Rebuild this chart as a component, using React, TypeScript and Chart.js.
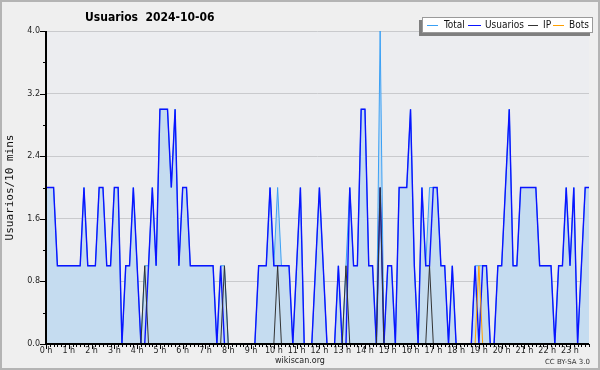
import React, { useEffect, useRef } from "react";
import { Chart, registerables } from "chart.js";

Chart.register(...registerables);

// 10-minute slots over the day
const timeLabels: string[] = [];
for (let h = 0; h < 24; h++) {
  for (let m = 0; m < 60; m += 10) timeLabels.push(`${h}:${String(m).padStart(2, "0")}`);
}

const hourTickLabels = [
  "0 h", "1 h", "2 h", "3 h", "4 h", "5 h", "6 h", "7 h", "8 h", "9 h", "10 h", "11 h",
  "12 h", "13 h", "14 h", "15 h", "16 h", "17 h", "18 h", "19 h", "20 h", "21 h", "22 h", "23 h",
];
const yTickLabels = ["0.0", "0.8", "1.6", "2.4", "3.2", "4.0"];

const usuarios = [
  2, 2, 2, 1, 1, 1, 1, 1, 1, 1, 2, 1,
  1, 1, 2, 2, 1, 1, 2, 2, 0, 1, 1, 2,
  1, 0, 0, 1, 2, 1, 3, 3, 3, 2, 3, 1,
  2, 2, 1, 1, 1, 1, 1, 1, 1, 0, 1, 0,
  0, 0, 0, 0, 0, 0, 0, 0, 1, 1, 1, 2,
  1, 1, 1, 1, 1, 0, 1, 2, 0, 0, 0, 1,
  2, 1, 0, 0, 0, 1, 0, 0, 2, 1, 1, 3,
  3, 1, 1, 0, 2, 0, 1, 1, 0, 2, 2, 2,
  3, 1, 0, 2, 1, 1, 2, 2, 1, 1, 0, 1,
  0, 0, 0, 0, 0, 1, 0, 1, 1, 0, 0, 1,
  1, 2, 3, 1, 1, 2, 2, 2, 2, 2, 1, 1,
  1, 1, 0, 1, 1, 2, 1, 2, 0, 1, 2, 2,
];

const total = [
  2, 2, 2, 1, 1, 1, 1, 1, 1, 1, 2, 1,
  1, 1, 2, 2, 1, 1, 2, 2, 0, 1, 1, 2,
  1, 0, 1, 1, 2, 1, 3, 3, 3, 2, 3, 1,
  2, 2, 1, 1, 1, 1, 1, 1, 1, 0, 1, 1,
  0, 0, 0, 0, 0, 0, 0, 0, 1, 1, 1, 2,
  1, 2, 1, 1, 1, 0, 1, 2, 0, 0, 0, 1,
  2, 1, 0, 0, 0, 1, 0, 1, 2, 1, 1, 3,
  3, 1, 1, 0, 4, 0, 1, 1, 0, 2, 2, 2,
  3, 1, 0, 2, 1, 2, 2, 2, 1, 1, 0, 1,
  0, 0, 0, 0, 0, 1, 1, 1, 1, 0, 0, 1,
  1, 2, 3, 1, 1, 2, 2, 2, 2, 2, 1, 1,
  1, 1, 0, 1, 1, 2, 1, 2, 0, 1, 2, 2,
];

const ip = [
  0, 0, 0, 0, 0, 0, 0, 0, 0, 0, 0, 0,
  0, 0, 0, 0, 0, 0, 0, 0, 0, 0, 0, 0,
  0, 0, 1, 0, 0, 0, 0, 0, 0, 0, 0, 0,
  0, 0, 0, 0, 0, 0, 0, 0, 0, 0, 0, 1,
  0, 0, 0, 0, 0, 0, 0, 0, 0, 0, 0, 0,
  0, 1, 0, 0, 0, 0, 0, 0, 0, 0, 0, 0,
  0, 0, 0, 0, 0, 0, 0, 1, 0, 0, 0, 0,
  0, 0, 0, 0, 2, 0, 0, 0, 0, 0, 0, 0,
  0, 0, 0, 0, 0, 1, 0, 0, 0, 0, 0, 0,
  0, 0, 0, 0, 0, 0, 0, 0, 0, 0, 0, 0,
  0, 0, 0, 0, 0, 0, 0, 0, 0, 0, 0, 0,
  0, 0, 0, 0, 0, 0, 0, 0, 0, 0, 0, 0,
];

const bots = [
  0, 0, 0, 0, 0, 0, 0, 0, 0, 0, 0, 0,
  0, 0, 0, 0, 0, 0, 0, 0, 0, 0, 0, 0,
  0, 0, 0, 0, 0, 0, 0, 0, 0, 0, 0, 0,
  0, 0, 0, 0, 0, 0, 0, 0, 0, 0, 0, 0,
  0, 0, 0, 0, 0, 0, 0, 0, 0, 0, 0, 0,
  0, 0, 0, 0, 0, 0, 0, 0, 0, 0, 0, 0,
  0, 0, 0, 0, 0, 0, 0, 0, 0, 0, 0, 0,
  0, 0, 0, 0, 0, 0, 0, 0, 0, 0, 0, 0,
  0, 0, 0, 0, 0, 0, 0, 0, 0, 0, 0, 0,
  0, 0, 0, 0, 0, 0, 1, 0, 0, 0, 0, 0,
  0, 0, 0, 0, 0, 0, 0, 0, 0, 0, 0, 0,
  0, 0, 0, 0, 0, 0, 0, 0, 0, 0, 0, 0,
];

const C_TOTAL = "#3aa0f5";
const C_USU = "#0a14ff";
const C_IP = "#333333";
const C_BOTS = "#ffa000";
const FILL = "#c5dcf0";
const SANS = "'DejaVu Sans', sans-serif";
const COND = "'DejaVu Sans Condensed', 'DejaVu Sans', sans-serif";

const decor = {
  id: "decor",
  beforeDraw(chart: any) {
    const { ctx, chartArea: a } = chart;
    ctx.save();
    ctx.fillStyle = "#efefef";
    ctx.fillRect(0, 0, chart.width, chart.height);
    ctx.fillStyle = "#ecedf0";
    ctx.fillRect(a.left, a.top, a.right - a.left, a.bottom - a.top);
    ctx.restore();
  },
  afterDatasetsDraw(chart: any) {
    const { ctx, chartArea: a, scales } = chart;
    const xs = scales.x;
    const ys = scales.y;
    ctx.save();
    ctx.strokeStyle = "#000";
    ctx.lineWidth = 1;
    for (let i = 0; i < timeLabels.length; i++) {
      const px = Math.round(xs.getPixelForValue(i)) + 0.5;
      const len = i % 6 === 0 ? 5 : 3;
      ctx.beginPath();
      ctx.moveTo(px, a.bottom);
      ctx.lineTo(px, a.bottom + len);
      ctx.stroke();
    }
    const yt = ys.ticks;
    for (let k = 0; k < yt.length; k++) {
      const py = Math.round(ys.getPixelForValue(yt[k].value)) + 0.5;
      const len = k % 2 === 0 ? 6 : 3;
      ctx.beginPath();
      ctx.moveTo(a.left - len, py);
      ctx.lineTo(a.left, py);
      ctx.stroke();
    }
    ctx.lineWidth = 2;
    ctx.beginPath();
    ctx.moveTo(a.left, a.top);
    ctx.lineTo(a.left, a.bottom);
    ctx.lineTo(a.right, a.bottom);
    ctx.stroke();
    ctx.restore();
  },
};

export default function App() {
  const ref = useRef<HTMLCanvasElement | null>(null);

  useEffect(() => {
    if (!ref.current) return;
    const chart = new Chart(ref.current, {
      type: "line",
      data: {
        labels: timeLabels,
        datasets: [
          {
            label: "Total",
            data: total,
            borderColor: C_TOTAL,
            backgroundColor: FILL,
            borderWidth: 1,
            fill: "origin",
            order: 4,
          },
          {
            label: "Usuarios",
            data: usuarios,
            borderColor: C_USU,
            borderWidth: 1.4,
            fill: false,
            order: 3,
          },
          {
            label: "IP",
            data: ip,
            borderColor: C_IP,
            borderWidth: 1,
            fill: false,
            order: 2,
          },
          {
            label: "Bots",
            data: bots,
            borderColor: C_BOTS,
            borderWidth: 1,
            fill: false,
            order: 1,
          },
        ],
      },
      options: {
        animation: false,
        responsive: false,
        maintainAspectRatio: false,
        layout: { padding: { left: 0, top: 31, right: 11, bottom: 0 } },
        elements: { point: { radius: 0, hoverRadius: 0 }, line: { tension: 0 } },
        plugins: {
          legend: { display: false },
          tooltip: { enabled: false },
          title: { display: false },
        },
        scales: {
          x: {
            type: "category",
            offset: false,
            grid: { display: false, drawTicks: false },
            border: { display: false },
            ticks: {
              autoSkip: false,
              maxRotation: 0,
              minRotation: 0,
              padding: 2,
              color: "#222",
              font: { family: SANS, size: 8 },
              callback: (_v: any, i: number) => (i % 6 === 0 ? hourTickLabels[i / 6] : ""),
            },
            afterFit: (s: any) => {
              s.height = 26;
            },
          },
          y: {
            min: 0,
            max: 4,
            grid: {
              drawTicks: false,
              color: (c: any) => {
                const k = Math.round(c.tick.value / 0.4);
                return k % 2 === 0 && k > 0 ? "#c9cacd" : "rgba(0,0,0,0)";
              },
              lineWidth: 1,
            },
            border: { display: false },
            ticks: {
              stepSize: 0.4,
              autoSkip: false,
              padding: 6,
              color: "#222",
              font: { family: SANS, size: 8 },
              callback: (_v: any, i: number) => (i % 2 === 0 ? yTickLabels[i / 2] : ""),
            },
            title: {
              display: true,
              text: "Usuarios/10 mins",
              color: "#111",
              font: { family: "'DejaVu Sans Mono', monospace", size: 11 },
              padding: { top: 4, bottom: 0 },
            },
            afterFit: (s: any) => {
              s.width = 46;
            },
          },
        },
      },
      plugins: [decor],
    });
    return () => chart.destroy();
  }, []);

  const legendItems = [
    { label: "Total", color: C_TOTAL, lx: 4, lw: 11, tx: 21 },
    { label: "Usuarios", color: C_USU, lx: 45, lw: 13, tx: 62 },
    { label: "IP", color: C_IP, lx: 105, lw: 10, tx: 120 },
    { label: "Bots", color: C_BOTS, lx: 130, lw: 11, tx: 146 },
  ];

  return (
    <div
      style={{
        position: "fixed",
        left: 0,
        top: 0,
        width: 600,
        height: 370,
        overflow: "hidden",
        background: "#efefef",
      }}
    >
      <canvas ref={ref} width={600} height={370} style={{ position: "absolute", left: 0, top: 0, width: 600, height: 370 }} />
      <div
        style={{
          position: "absolute",
          left: 85,
          top: 11,
          font: `bold 12px ${COND}`,
          lineHeight: "12px",
          whiteSpace: "pre",
          color: "#000",
        }}
      >
        {"Usuarios  2024-10-06"}
      </div>
      <div
        style={{
          position: "absolute",
          left: 422,
          top: 17,
          width: 169,
          height: 14,
          background: "#fff",
          border: "1px solid #9a9a9a",
          boxShadow: "-3px 3px 0 #7f7f7f",
        }}
      >
        {legendItems.map((it) => (
          <React.Fragment key={it.label}>
            <div
              style={{
                position: "absolute",
                left: it.lx,
                top: 7,
                width: it.lw,
                height: 1,
                background: it.color,
              }}
            />
            <div
              style={{
                position: "absolute",
                left: it.tx,
                top: 1,
                font: `10px ${COND}`,
                lineHeight: "12px",
                color: "#111",
                whiteSpace: "pre",
              }}
            >
              {it.label}
            </div>
          </React.Fragment>
        ))}
      </div>
      <div
        style={{
          position: "absolute",
          left: 0,
          width: 600,
          top: 356,
          textAlign: "center",
          font: `8px ${SANS}`,
          lineHeight: "9px",
          color: "#222",
        }}
      >
        wikiscan.org
      </div>
      <div
        style={{
          position: "absolute",
          right: 10,
          top: 358,
          font: `7px ${SANS}`,
          lineHeight: "8px",
          color: "#333",
        }}
      >
        CC BY-SA 3.0
      </div>
      <div
        style={{
          position: "absolute",
          left: 0,
          top: 0,
          width: 600,
          height: 370,
          boxSizing: "border-box",
          border: "2px solid #b4b4b4",
          pointerEvents: "none",
        }}
      />
    </div>
  );
}
